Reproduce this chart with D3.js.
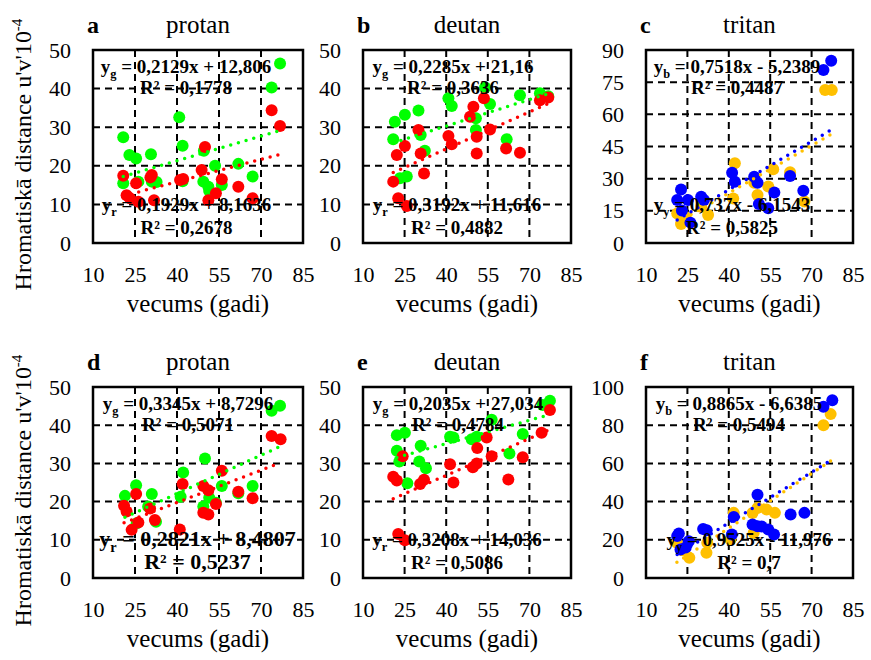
<!DOCTYPE html>
<html lang="lv">
<head>
<meta charset="UTF-8">
<title>Hromatiskā distance pēc vecuma</title>
<script src="https://d3js.org/d3.v7.min.js"></script>
<style>
  body { margin: 0; background: #fff; }
  svg text { font-family: "Liberation Serif", "Times New Roman", serif; fill: #000; }
  .tick text { font-size: 22px; }
  .eq { font-weight: bold; }
</style>
</head>
<body>
<svg id="chart" width="871" height="660"></svg>
<script>
// x axis (age) ticks shared by all panels
const xTicks = [10, 25, 40, 55, 70, 85];
const yTicksProtan = [0, 10, 20, 30, 40, 50];
const yTicksTritanTop = [0, 15, 30, 45, 60, 75, 90];
const yTicksTritanBottom = [0, 20, 40, 60, 80, 100];

// [age, distance]
const aGreen = [[76.8,46.5],[73.8,40.3],[40.8,32.6],[20.8,27.4],[42,25.2],[23,22.8],[25.4,21.9],[30.7,23],[49.6,23.9],[53.6,20],[61.9,20.5],[67,17.2],[20.8,15.5],[26.2,15.9],[31,15.9],[32.7,15.8],[49.4,15.9],[51.2,14.6],[56,15],[51.5,13.5],[42,16]];
const aRed = [[73.8,34.4],[76.8,30.3],[50,24.9],[20.8,17.4],[31,17.6],[41.1,16.3],[42.2,16.6],[48.8,18.9],[56,16.5],[25.4,15.5],[61.9,14.6],[22,12.4],[23.2,11.6],[26.2,10.7],[31.8,11.1],[53.9,12.9],[51.2,11.1],[67,11.6],[30.5,17]];
const bGreen = [[73.8,38.8],[66.6,38.3],[54,40.3],[40.8,37.5],[42,35.5],[55.8,36],[50.7,32.3],[50.7,29.3],[30,34.3],[25.1,33.2],[21.5,31.4],[20.9,26.9],[30.8,28],[32.3,23.9],[61.8,26.9],[23.3,16.8],[25.8,17.2],[76.8,38]];
const bRed = [[76.8,37.7],[73.8,37],[53.6,37.5],[49.8,35.3],[48.6,32.7],[55.8,29.4],[51,27.5],[51,23.2],[30,29.3],[40.8,27.7],[42,25.6],[25.1,25.1],[22.2,22.8],[30.8,23.2],[61.6,24.5],[66.6,23.4],[32,18],[20.9,15.9],[22.7,11.6],[25.8,9.6]];
const cBlue = [[77.1,85],[74.3,80.7],[22.7,25],[21.3,20],[25.2,20],[23,15.1],[26.1,9.5],[30,21.6],[31,20],[41.2,32.8],[42.2,28.6],[49.2,30.9],[50.4,28.1],[50.9,18.2],[54.3,16.2],[56.5,23.5],[62.2,31.2],[67,24.4]];
const cYellow = [[74.9,71.3],[77.3,71.3],[42.2,37.2],[41.6,20.8],[49.2,28.1],[50.4,22.4],[54.3,26.3],[56.1,34.4],[67.4,19.3],[21.3,13.8],[22.7,8.9],[32.5,13.1],[30,16.9],[62.2,33],[24.4,12]];
const dGreen = [[76.8,45.1],[73.8,43.8],[50,31.3],[42.2,27.6],[25.4,24.3],[31,22],[21.4,21.5],[41.3,21.3],[56,24.1],[67,24.1],[49.4,18.7],[53.9,19.7],[25.6,14.3],[29.7,18.7],[32.5,14.7],[61.9,22.2],[51.5,21]];
const dRed = [[73.8,37.2],[77,36.3],[56,28.1],[42,24.6],[49.4,24.1],[51.2,23],[25.4,22],[61.9,22.6],[67,20.9],[53.9,19.4],[21.1,18.9],[22,17.4],[30.4,18.2],[32.1,15.2],[49.4,17.1],[51.2,16.6],[26.2,14.5],[23.8,12.6],[41,12.7]];
const eGreen = [[77.4,46.4],[74.8,45.3],[56.4,41.4],[67.6,37.7],[62.8,32.6],[41.4,37],[42.6,36.8],[49.2,36.3],[51,37],[25.1,38],[22.2,37.4],[22.2,33.3],[23.1,30.5],[30.8,34.6],[30.3,30.5],[32.7,28.7],[26,24.8]];
const eRed = [[77.4,44],[74.4,38],[54.6,36.8],[51.2,34],[56.4,31.9],[67.6,31.6],[24.3,31.9],[41.4,29.8],[51,30],[49.6,29],[62.4,25.8],[42.6,25],[20.9,26.5],[22.2,25.5],[32,25.7],[30.6,24.6],[22.7,11.5],[25.1,9.9]];
const fBlue = [[77.5,93.1],[74.3,89.6],[50.4,43.6],[48.6,28],[50.4,27.1],[51.9,27],[54.3,25.4],[56.4,22.8],[62.4,33.2],[67.4,34.1],[41.8,32],[41.1,22.8],[30.7,25.7],[32,25],[21.9,23.3],[21.3,22],[25.5,19.3],[22.5,14.9],[24.4,16]];
const fYellow = [[76.9,85.8],[74.3,80],[41.8,34.1],[50.4,36.7],[53.7,35.8],[56.7,34.1],[48.6,34],[49,23.6],[40.6,20.2],[32.2,18.4],[31.9,13.2],[25.7,10.6],[21.2,18.4],[23.2,14.5]];

// trend line fits as printed: [slope, intercept, R²]
const aGreenFit = [0.2129, 12.806, 0.1778], aRedFit = [0.1929, 8.1636, 0.2678];
const bGreenFit = [0.2285, 21.16, 0.3636], bRedFit = [0.3192, 11.616, 0.4882];
const cBlueFit = [0.7518, -5.2389, 0.4487], cYellowFit = [0.737, -6.1543, 0.5825];
const dGreenFit = [0.3345, 8.7296, 0.5071], dRedFit = [0.2821, 8.4807, 0.5237];
const eGreenFit = [0.2035, 27.034, 0.4784], eRedFit = [0.3208, 14.036, 0.5086];
const fBlueFit = [0.8865, -6.6385, 0.5494], fYellowFit = [0.9525, -11.976, 0.7];

const GREEN = "#00ff00", RED = "#ff0000", BLUE = "#0000ff", YELLOW = "#ffc000";

// layout
const colX = [[93, 303], [363, 571], [646, 853]];
const rowY = [[50, 243], [387, 578]];

const panels = [
  {id: "a", title: "protan", col: 0, row: 0, yMax: 50, yTicks: yTicksProtan,
   upper: {pts: aGreen, fit: aGreenFit, color: GREEN, sub: "g"}, lower: {pts: aRed, fit: aRedFit, color: RED, sub: "r"},
   topCx: 186, botCx: 186.5, botSize: 19, backFirst: "upper"},
  {id: "b", title: "deutan", col: 1, row: 0, yMax: 50, yTicks: yTicksProtan,
   upper: {pts: bGreen, fit: bGreenFit, color: GREEN, sub: "g"}, lower: {pts: bRed, fit: bRedFit, color: RED, sub: "r"},
   topCx: 453, botCx: 457, botSize: 19, backFirst: "upper"},
  {id: "c", title: "tritan", col: 2, row: 0, yMax: 90, yTicks: yTicksTritanTop,
   upper: {pts: cBlue, fit: cBlueFit, color: BLUE, sub: "b"}, lower: {pts: cYellow, fit: cYellowFit, color: YELLOW, sub: "y"},
   topCx: 737, botCx: 732, botSize: 19, backFirst: "lower"},
  {id: "d", title: "protan", col: 0, row: 1, yMax: 50, yTicks: yTicksProtan,
   upper: {pts: dGreen, fit: dGreenFit, color: GREEN, sub: "g"}, lower: {pts: dRed, fit: dRedFit, color: RED, sub: "r"},
   topCx: 188, botCx: 197.5, botSize: 22, backFirst: "upper"},
  {id: "e", title: "deutan", col: 1, row: 1, yMax: 50, yTicks: yTicksProtan,
   upper: {pts: eGreen, fit: eGreenFit, color: GREEN, sub: "g"}, lower: {pts: eRed, fit: eRedFit, color: RED, sub: "r"},
   topCx: 458, botCx: 457, botSize: 19, backFirst: "upper"},
  {id: "f", title: "tritan", col: 2, row: 1, yMax: 100, yTicks: yTicksTritanBottom,
   upper: {pts: fBlue, fit: fBlueFit, color: BLUE, sub: "b"}, lower: {pts: fYellow, fit: fYellowFit, color: YELLOW, sub: "y"},
   topCx: 739, botCx: 749, botSize: 19, backFirst: "lower"}
];

const svg = d3.select("#chart");
const fmt = v => String(v).replace(".", ",");

function equation(g, cx, base, s, size) {
  const [m, b, r2] = s.fit;
  const t = g.append("text").attr("class", "eq").attr("x", cx).attr("y", base[0])
    .attr("text-anchor", "middle").attr("font-size", size);
  t.append("tspan").text("y");
  t.append("tspan").attr("dy", size * 0.25).attr("font-size", size * 0.65).text(s.sub);
  t.append("tspan").attr("dy", -size * 0.25)
    .text(` = ${fmt(m)}x ${b < 0 ? "-" : "+"} ${fmt(Math.abs(b))}`);
  g.append("text").attr("class", "eq").attr("x", cx).attr("y", base[1])
    .attr("text-anchor", "middle").attr("font-size", size)
    .text(`R² = ${fmt(r2)}`);
}

function drawPanel(p) {
  const [x0, x1] = colX[p.col], [y0, y1] = rowY[p.row];
  const x = d3.scaleLinear().domain([10, 85]).range([x0, x1]);
  const y = d3.scaleLinear().domain([0, p.yMax]).range([y1, y0]);
  const g = svg.append("g");

  // dashed grid
  g.selectAll(".hg").data(p.yTicks.slice(1, -1)).join("line")
    .attr("x1", x0).attr("x2", x1).attr("y1", d => y(d)).attr("y2", d => y(d))
    .attr("stroke", "#000").attr("stroke-width", 2).attr("stroke-dasharray", "7,5");
  g.selectAll(".vg").data(xTicks.slice(1, -1)).join("line")
    .attr("y1", y0).attr("y2", y1).attr("x1", d => x(d)).attr("x2", d => x(d))
    .attr("stroke", "#000").attr("stroke-width", 2).attr("stroke-dasharray", "7,5");

  // axes
  g.append("g").attr("transform", `translate(${x0},0)`)
    .call(d3.axisLeft(y).tickValues(p.yTicks).tickSize(0).tickPadding(22))
    .call(a => a.select(".domain").remove());
  g.append("g").attr("transform", `translate(0,${y1})`)
    .call(d3.axisBottom(x).tickValues(xTicks).tickSize(0).tickPadding(23))
    .call(a => a.select(".domain").remove());

  // points
  const order = p.backFirst === "upper" ? [p.upper, p.lower] : [p.lower, p.upper];
  order.forEach(s => {
    g.append("g").selectAll("circle").data(s.pts).join("circle")
      .attr("cx", d => x(d[0])).attr("cy", d => y(d[1])).attr("r", 6)
      .attr("fill", s.color);
  });

  // dotted trend lines across the data range
  const line = d3.line().x(d => x(d[0])).y(d => y(d[1]));
  order.forEach(s => {
    const ext = d3.extent(s.pts, d => d[0]);
    const ends = ext.map(v => [v, s.fit[0] * v + s.fit[1]]);
    g.append("path").attr("d", line(ends)).attr("fill", "none")
      .attr("stroke", s.color).attr("stroke-width", 3.5)
      .attr("stroke-linecap", "round").attr("stroke-dasharray", "0,8");
  });

  // frame
  g.append("rect").attr("x", x0).attr("y", y0).attr("width", x1 - x0).attr("height", y1 - y0)
    .attr("fill", "none").attr("stroke", "#000").attr("stroke-width", 2.5);

  // equations
  equation(g, p.topCx, [y0 + 23, y0 + 44], p.upper, 19);
  equation(g, p.botCx, [y1 - 32, y1 - 9], p.lower, p.botSize);

  // letter + title
  g.append("text").attr("x", x0 - 6).attr("y", y0 - 17).attr("font-size", 24)
    .attr("font-weight", "bold").text(p.id);
  g.append("text").attr("x", (x0 + x1) / 2).attr("y", y0 - 17).attr("font-size", 25)
    .attr("text-anchor", "middle").text(p.title);
  g.append("text").attr("x", (x0 + x1) / 2).attr("y", y1 + 69).attr("font-size", 25)
    .attr("text-anchor", "middle").text("vecums (gadi)");
}

panels.forEach(drawPanel);

// shared y title for each row
rowY.forEach(([y0, y1]) => {
  const cy = (y0 + y1) / 2 + 8;
  const t = svg.append("text").attr("transform", `translate(31,${cy}) rotate(-90)`)
    .attr("text-anchor", "middle").attr("font-size", 24);
  t.append("tspan").text("Hromatiskā distance u'v'10");
  t.append("tspan").attr("dy", -9).attr("font-size", 15).text("-4");
});
</script>
</body>
</html>
